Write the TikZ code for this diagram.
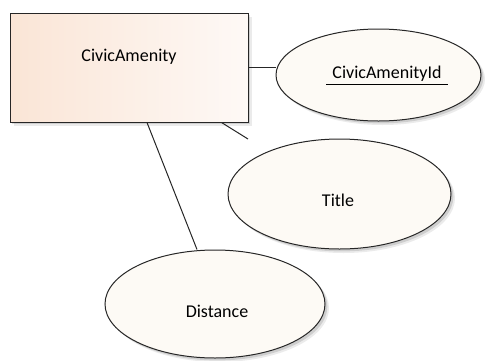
\documentclass[tikz,border=0pt]{standalone}
\usepackage{fontspec}
\setmainfont{Carlito}
\usetikzlibrary{shapes.geometric,shadows}
\tikzset{font=\fontsize{9}{11}\selectfont}

\definecolor{entityleft}{RGB}{250,229,214}
\definecolor{entityright}{RGB}{254,249,246}
\definecolor{attrfill}{RGB}{253,250,245}

% text set off the centre of its shape: #1 twice the x offset, #2 the y offset
\newcommand{\offtext}[3]{\smash{\raisebox{#2}{\makebox[0pt]{\hspace{#1}#3}}}}

\begin{document}
\begin{tikzpicture}[x=0.5pt,y=-0.5pt,
    every node/.style={line width=0.5pt,draw=black!85,inner sep=0pt},
    soft shadow/.style={
      drop shadow={shadow xshift=2pt,shadow yshift=-2pt,fill=black,opacity=.08},
      drop shadow={shadow xshift=1.2pt,shadow yshift=-1.2pt,fill=black,opacity=.12}},
    entity/.style={rectangle,left color=entityleft,right color=entityright,soft shadow},
    attr/.style={ellipse,fill=attrfill,soft shadow},
    link/.style={line width=0.5pt,draw=black!85}]
  \useasboundingbox (0,0) rectangle (487,360);

  \node[entity,minimum width=119pt,minimum height=54.5pt] (CA) at (129,67.5)
    {\offtext{0pt}{3.25pt}{CivicAmenity}};

  \node[attr,minimum width=102.5pt,minimum height=46pt] (CAId) at (378.5,75)
    {\offtext{8.5pt}{-1.85pt}{\underline{\hspace{3pt}CivicAmenityId\hspace{3pt}}}};
  \node[attr,minimum width=111.5pt,minimum height=55pt] (Title) at (339.5,194)
    {\offtext{-1.5pt}{-6.25pt}{Title}};
  \node[attr,minimum width=110pt,minimum height=54pt] (Dist) at (215,304)
    {\offtext{2pt}{-6.5pt}{Distance}};

  \coordinate (TitleEnd) at (248,139);

  \path[link] (CA.east) edge (CAId.west |- CA.east);
  \path[link] ([xshift=-13.5pt]CA.south east) edge (TitleEnd);
  \path[link] ([xshift=9pt]CA.south) edge ([xshift=-9pt]Dist.north);
\end{tikzpicture}
\end{document}
